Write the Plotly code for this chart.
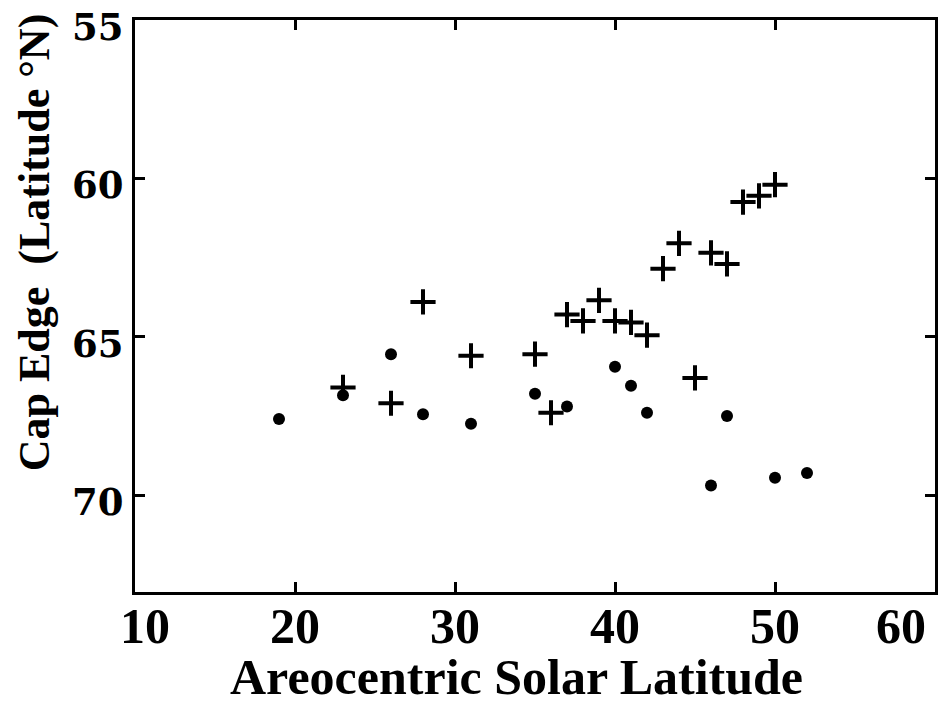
import plotly.graph_objects as go

# Data
plus_x = [23, 26, 28, 31, 35, 36, 37, 38, 39, 40, 41, 42, 43, 44, 45, 46, 47, 48, 49, 50]
plus_y = [66.6, 67.1, 63.9, 65.6, 65.55, 67.4, 64.3, 64.5, 63.85, 64.5, 64.55, 64.95,
          62.85, 62.05, 66.3, 62.35, 62.7, 60.75, 60.55, 60.2]
dot_x = [19, 23, 26, 28, 31, 35, 37, 40, 41, 42, 46, 47, 50, 52]
dot_y = [67.6, 66.85, 65.55, 67.45, 67.75, 66.8, 67.2, 65.95, 66.55, 67.4, 69.7, 67.5, 69.45, 69.3]

x_ticks = [10, 20, 30, 40, 50, 60]
x_tick_shift = [10, 0, 0, 0, 0, -34]
y_ticks = [55, 60, 65, 70]

x_title = "Areocentric Solar Latitude"
y_title = "Cap Edge  (Latitude °N)"

fig = go.Figure()
fig.add_trace(go.Scatter(x=plus_x, y=plus_y, mode="markers",
                         marker=dict(symbol="cross-thin", size=18, color="black",
                                     line=dict(width=4, color="black")),
                         showlegend=False))
fig.add_trace(go.Scatter(x=dot_x, y=dot_y, mode="markers",
                         marker=dict(symbol="circle", size=12, color="black"),
                         showlegend=False))

axis_common = dict(showgrid=False, zeroline=False, showline=True, linecolor="black",
                   linewidth=3, ticks="inside", ticklen=10, tickwidth=3, tickcolor="black",
                   mirror="ticks")

fig.update_xaxes(range=[10, 60], tickvals=x_ticks, showticklabels=False, **axis_common)
fig.update_yaxes(range=[73.06, 55], tickvals=y_ticks, showticklabels=False, **axis_common)

annotations = []
for v, s in zip(x_ticks, x_tick_shift):
    annotations.append(dict(x=v, y=0, xref="x", yref="paper", text=str(v), showarrow=False,
                            xanchor="center", yanchor="top", xshift=s, yshift=-4,
                            font=dict(family="Liberation Serif", size=50, color="black", weight="bold")))
for v in y_ticks:
    annotations.append(dict(x=0, y=v, xref="paper", yref="y", text=str(v), showarrow=False,
                            xanchor="right", yanchor="middle", xshift=-9, yshift=-7,
                            font=dict(family="DejaVu Serif", size=37, color="black", weight="bold")))
annotations.append(dict(x=0.477, y=-0.148, xref="paper", yref="paper", text=x_title,
                        showarrow=False, xanchor="center", yanchor="middle",
                        font=dict(family="Liberation Serif", size=50, color="black", weight="bold")))
annotations.append(dict(x=-0.1245, y=0.612, xref="paper", yref="paper", text=y_title,
                        showarrow=False, xanchor="center", yanchor="middle", textangle=-90,
                        font=dict(family="Liberation Serif", size=44, color="black", weight="bold")))

fig.update_layout(width=942, height=708, margin=dict(l=135, r=4, t=20, b=116),
                  plot_bgcolor="white", paper_bgcolor="white", annotations=annotations)

fig.write_html("out.html", config={"displayModeBar": False},
               post_script="document.body.style.margin='0';document.body.style.overflow='hidden';")
